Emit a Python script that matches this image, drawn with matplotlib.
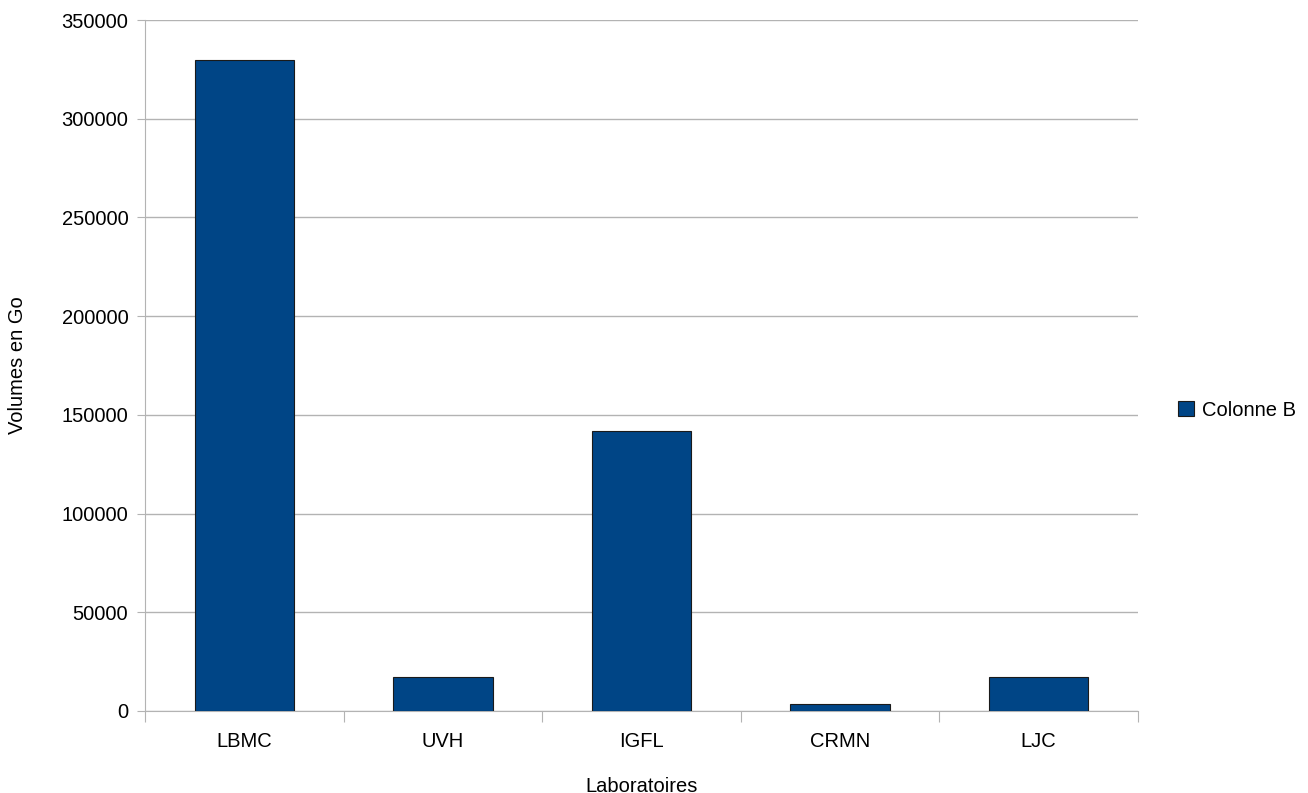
import matplotlib
matplotlib.use("Agg")
import matplotlib.pyplot as plt
import numpy as np

# donnees
laboratoires = ["LBMC", "UVH", "IGFL", "CRMN", "LJC"]
volumes_go = [329700, 17200, 141700, 3500, 17100]

plt.rcParams['font.family'] = ['Liberation Sans', 'DejaVu Sans']
plt.rcParams['font.size'] = 14.5

fig = plt.figure(figsize=(13.08, 7.93), dpi=100)
ax = fig.add_axes([145 / 1308, 1 - 711 / 793, (1138 - 145) / 1308, (711 - 20) / 793])

x = np.arange(len(laboratoires))
ax.bar(x, volumes_go, width=0.5, color="#004586", edgecolor="#1a1a1a",
       linewidth=0.8, label="Colonne B", zorder=3)

ax.set_xlim(-0.5, len(laboratoires) - 0.5)
ax.set_ylim(0, 350000)
ax.set_yticks(np.arange(0, 350001, 50000))
ax.yaxis.grid(True, color="#b3b3b3", linewidth=1, zorder=0)

# graduations entre les categories
ax.set_xticks(np.arange(-0.5, len(laboratoires), 1))
ax.set_xticklabels([])
ax.set_xticks(x, minor=True)
ax.set_xticklabels(laboratoires, minor=True)
ax.tick_params(axis="x", which="minor", length=0, pad=15)
ax.tick_params(axis="x", which="major", length=8, color="#b3b3b3", direction="out")
ax.tick_params(axis="y", length=6, color="#b3b3b3", pad=6)

for side in ["top", "right"]:
    ax.spines[side].set_visible(False)
for side in ["left", "bottom"]:
    ax.spines[side].set_color("#b3b3b3")

ax.set_xlabel("Laboratoires", va="center")
ax.xaxis.set_label_coords(0.5, (711 - 786) / 691)
ax.set_ylabel("Volumes en Go", va="center")
ax.yaxis.set_label_coords((18 - 145) / 993, 0.5)

fig.legend(loc="center left", bbox_to_anchor=(1178 / 1308, 1 - 410 / 793),
           frameon=False, handlelength=0.8, handleheight=0.8, handletextpad=0.4,
           borderaxespad=0, borderpad=0)

fig.savefig("out.png", dpi=100)
